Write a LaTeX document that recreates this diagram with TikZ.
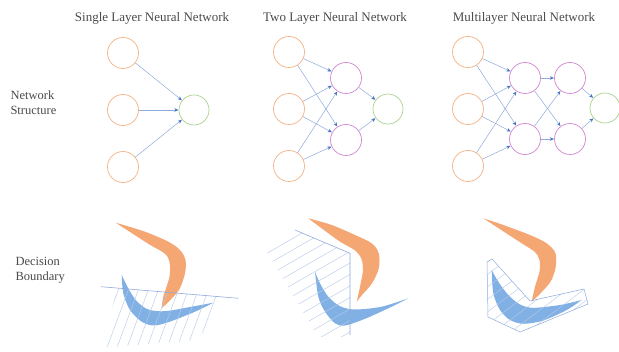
\documentclass[tikz,border=0pt]{standalone}
\usepackage{fontspec}
\setmainfont{Liberation Serif}
\usetikzlibrary{arrows.meta}
\definecolor{inc}{HTML}{F4B183}
\definecolor{hidc}{HTML}{D185D1}
\definecolor{outc}{HTML}{A9D18E}
\definecolor{arrc}{HTML}{8FAADC}
\definecolor{headc}{HTML}{4472C4}
\definecolor{boomo}{HTML}{F4A673}
\definecolor{boomb}{HTML}{80B0E4}
\definecolor{bline}{HTML}{8FAADC}
\definecolor{hatchc}{HTML}{B8CAE8}
\definecolor{txt}{HTML}{4A4A4A}
\begin{document}
\begin{tikzpicture}[x=1pt,y=-1pt,
  neuron/.style={circle, draw, line width=0.7pt, minimum size=31pt, inner sep=0pt},
  inn/.style={neuron, draw=inc},
  hid/.style={neuron, draw=hidc},
  outn/.style={neuron, draw=outc, minimum size=30pt},
  conn/.style={draw=arrc, line width=0.5pt, -{Stealth[length=4pt,width=3.5pt,color=headc]}, shorten >=0.3pt},
  title/.style={font=\fontsize{13}{15}\selectfont, text=txt},
  rowlab/.style={font=\fontsize{12.5}{15}\selectfont, text=txt, align=left, anchor=west},
  bnd/.style={draw=bline, line width=0.6pt},
  hatch/.style={draw=hatchc, line width=0.45pt}]
\useasboundingbox (0,0) rectangle (619,352);

% titles and row labels
\node[title] (t1) at (152,18.5) {Single Layer Neural Network};
\node[title] (t2) at (335,18) {Two Layer Neural Network};
\node[title] (t3) at (524,18) {Multilayer Neural Network};
\node[rowlab] (r1) at (7,102.5) {Network\\Structure};
\node[rowlab] (r2) at (12,270) {Decision\\Boundary};

% single layer network
\node[inn] (sa1) at (123,53) {};
\node[inn] (sa2) at (123,110) {};
\node[inn] (sa3) at (123,167) {};
\node[outn] (so) at (194,110) {};
\foreach \s in {sa1,sa2,sa3} \draw[conn] (\s) -- (so);

% two layer network
\node[inn] (ta1) at (289,52) {};
\node[inn] (ta2) at (289,109) {};
\node[inn] (ta3) at (289,166) {};
\node[hid] (th1) at (346,78) {};
\node[hid] (th2) at (346,140) {};
\node[outn] (to) at (388,109) {};
\foreach \s in {ta1,ta2,ta3} {\draw[conn] (\s) -- (th1); \draw[conn] (\s) -- (th2);}
\foreach \s in {th1,th2} \draw[conn] (\s) -- (to);

% multilayer network
\node[inn] (ma1) at (468,52) {};
\node[inn] (ma2) at (468,109) {};
\node[inn] (ma3) at (468,166) {};
\node[hid] (mh1) at (525,78) {};
\node[hid] (mh2) at (525,139) {};
\node[hid] (mk1) at (570,78) {};
\node[hid] (mk2) at (570,139) {};
\node[outn] (mo) at (605,108) {};
\foreach \s in {ma1,ma2,ma3} {\draw[conn] (\s) -- (mh1); \draw[conn] (\s) -- (mh2);}
\foreach \s in {mh1,mh2} {\draw[conn] (\s) -- (mk1); \draw[conn] (\s) -- (mk2);}
\foreach \s in {mk1,mk2} \draw[conn] (\s) -- (mo);

% ---- decision boundaries: single layer
\fill[boomo] plot[smooth] coordinates {(115.7,222.7) (145,231.7) (168.3,241.7) (180,250) (185.5,260) (185,273.3) (179,290) (167,303.3) (161.7,308)}
  -- plot[smooth] coordinates {(161.7,308) (163.3,296.7) (169.5,276.7) (169.5,261.7) (164.5,253.3) (148.3,243.8) (115.7,222.7)} -- cycle;
\fill[boomb] plot[smooth] coordinates {(121.7,275) (123.3,293.3) (130,310) (141.7,321.7) (153.3,325.5) (168.3,322.2) (195,311.7) (213.3,302.7)}
  -- plot[smooth] coordinates {(213.3,302.7) (191.7,306.7) (165,311.2) (148.3,309.5) (136.7,301.2) (128.3,288.3) (121.7,275)} -- cycle;
\begin{scope}
  \clip (118,288.1) -- (225,297.2) -- (198,340) -- (100,348) -- cycle;
  \foreach \i in {0,...,12} \draw[hatch] ({112+10*\i},280) -- ++(-27,73);
\end{scope}
\coordinate (sl1) at (101,286.7);
\coordinate (sl2) at (238.3,298.3);
\draw[bnd] (sl1) -- (sl2);

% ---- two layer
\fill[boomo] plot[smooth] coordinates {(308.3,218.3) (331.7,225) (355,235) (371.7,243.3) (378.8,253.3) (378.8,268.3) (372,283.3) (362,295) (356.7,301.7)}
  -- plot[smooth] coordinates {(356.7,301.7) (360,286.7) (363,270) (361.2,258.3) (354.5,250) (338.3,240.5) (308.3,218.3)} -- cycle;
\fill[boomb] plot[smooth] coordinates {(315,271.7) (318.3,296.7) (325,311.7) (335,323.3) (345,325.5) (365,318.8) (391.7,306.7) (408.3,298.3)}
  -- plot[smooth] coordinates {(408.3,298.3) (381.7,306.7) (355,309.5) (340,306.2) (328.3,296.7) (320,283.3) (315,271.7)} -- cycle;
\begin{scope}
  \clip (295,230) -- (350,253.3) -- (350,337) -- (318,337) -- (266,250) -- cycle;
  \foreach \i in {0,...,15} \draw[hatch] (250,{240+11.5*\i}) -- ++(120,-69);
\end{scope}
\coordinate (tl1) at (295,230);
\coordinate (tl2) at (350,253.3);
\coordinate (tl3) at (350,335);
\draw[bnd] (tl1) -- (tl2) -- (tl3);

% ---- multilayer
\fill[boomo] plot[smooth] coordinates {(483.3,218.3) (503.3,225) (530,235) (546.7,243.3) (555.5,253.3) (555.5,268.3) (550.5,281.7) (540.5,293.3) (531.7,301.7)}
  -- plot[smooth] coordinates {(531.7,301.7) (535,286.7) (539.5,271.7) (539.5,260) (534.5,251.7) (520,242.2) (483.3,218.3)} -- cycle;
\fill[boomb] plot[smooth] coordinates {(491.7,270) (493.3,293.3) (500,310) (510,320) (523.3,323.8) (543.3,320.5) (566.7,310) (581.7,300)}
  -- plot[smooth] coordinates {(581.7,300) (560,305) (533.3,307.8) (520,304.5) (508.3,295) (498.3,281.7) (491.7,270)} -- cycle;
\coordinate (p1) at (487,262);
\coordinate (p2) at (492,259);
\coordinate (p3) at (530,301);
\coordinate (p4) at (584,289);
\coordinate (p5) at (588,304);
\coordinate (p6) at (520,332);
\coordinate (p7) at (488,317);
\begin{scope}
  \clip (p1) -- (p2) -- (p3) -- (p4) -- (p5) -- (p6) -- (p7) -- cycle;
  \foreach \i in {0,...,18} \draw[hatch] (470,{250+12.5*\i}) -- ++(150,-112.5);
\end{scope}
\draw[bnd, line width=0.5pt] (p1) -- (p2) -- (p3) -- (p4) -- (p5) -- (p6) -- (p7) -- cycle;
\end{tikzpicture}
\end{document}
